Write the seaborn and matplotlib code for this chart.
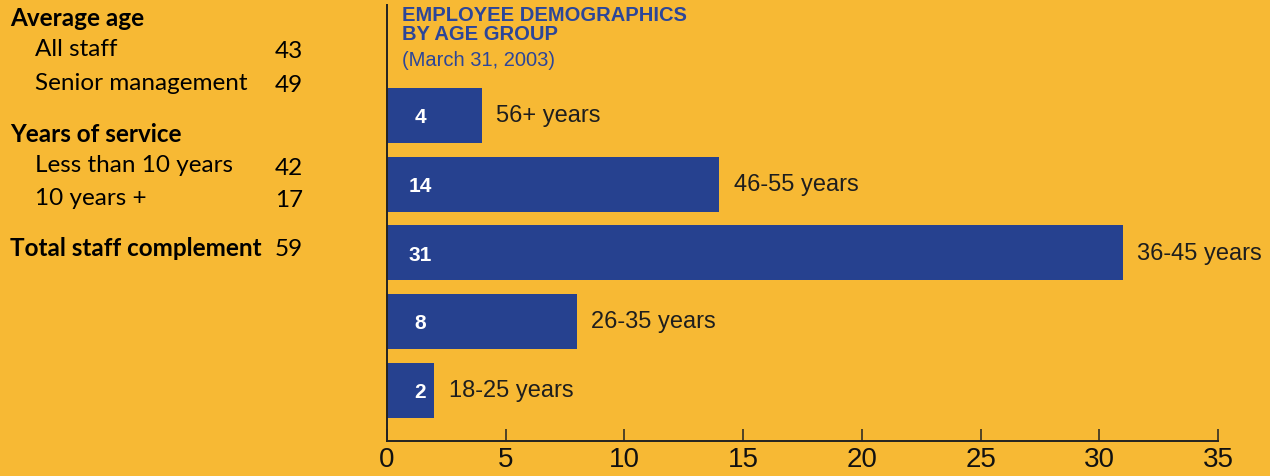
import matplotlib
matplotlib.use("Agg")
import matplotlib.pyplot as plt
import seaborn as sns
import pandas as pd

# Employee demographics by age group (March 31, 2003)
age_groups = ["56+ years", "46-55 years", "36-45 years", "26-35 years", "18-25 years"]
headcount = [4, 14, 31, 8, 2]
x_ticks = [0, 5, 10, 15, 20, 25, 30, 35]

# Side panel figures
panel_headers = ["Average age", "Years of service"]
age_items = ["All staff", "Senior management"]
age_values = [43, 49]
service_items = ["Less than 10 years", "10 years +"]
service_values = [42, 17]
total_label = "Total staff complement"
total_value = 59

BG = "#F7B934"
BAR = "#26418F"
TITLE = "#2C4699"
INK = "#1E1E1E"

sns.set_theme(style="white")
plt.rcParams["font.family"] = ["Liberation Sans", "DejaVu Sans"]

W, H = 1270, 476
fig = plt.figure(figsize=(W / 100, H / 100), dpi=100, facecolor=BG)
ax = fig.add_axes([387 / W, 1 - 441 / H, (1218 - 387) / W, (441 - 5) / H])
ax.set_facecolor(BG)

df = pd.DataFrame({"group": age_groups, "count": headcount})
sns.barplot(data=df, x="count", y="group", order=age_groups, orient="h",
            color=BAR, saturation=1, width=0.8, ax=ax, edgecolor="none")

ax.set_xlim(0, 35)
ax.set_ylim(4.735, -1.607)
ax.set_xticks(x_ticks)
ax.set_xticklabels([str(t) for t in x_ticks], fontsize=20, color="#111111")
ax.tick_params(axis="x", direction="in", length=9, width=1.1, color="#222222", pad=4,
               bottom=True)
ax.tick_params(axis="y", left=False, labelleft=False)
ax.set_xlabel("")
ax.set_ylabel("")
for side in ["top", "right"]:
    ax.spines[side].set_visible(False)
for side in ["left", "bottom"]:
    ax.spines[side].set_visible(True)
    ax.spines[side].set_color("#222222")
    ax.spines[side].set_linewidth(1.4)

# Value inside each bar and group name beyond its end
for i, (name, val) in enumerate(zip(age_groups, headcount)):
    ax.text(1.4, i + 0.03, str(val), ha="center", va="center", color="white",
            fontsize=15, fontweight="bold")
    ax.text(val + 0.6, i + 0.01, name, ha="left", va="center", color=INK, fontsize=17)

# Chart heading
ax.text(0.018, 0.998, "EMPLOYEE DEMOGRAPHICS\nBY AGE GROUP",
        transform=ax.transAxes, ha="left", va="top", color=TITLE, fontsize=14.5,
        fontweight="bold", linespacing=1.02)
ax.text(0.018, 0.895, "(March 31, 2003)", transform=ax.transAxes, ha="left", va="top",
        color=TITLE, fontsize=14.5)

# Side panel
def ftxt(x, y, s, **kw):
    fig.text(x / W, 1 - y / H, s, va="center", **kw)

panel_font = ["Lato", "DejaVu Sans"]
hdr = dict(fontsize=17.5, fontweight="bold", color="black", fontfamily=panel_font)
item = dict(fontsize=17.5, color="black", fontfamily=panel_font)

ftxt(10, 19, panel_headers[0], **hdr)
for (lab, val), y in zip(zip(age_items, age_values), [50, 83]):
    ftxt(35, y, lab, **item)
    ftxt(275, y + 2, str(val), **item)
ftxt(10, 134, panel_headers[1], **hdr)
for (lab, val), y in zip(zip(service_items, service_values), [166, 198]):
    ftxt(35, y, lab, **item)
    ftxt(275, y + 2, str(val), **item)
ftxt(10, 248, total_label, **hdr)
ftxt(275, 250, str(total_value), **item)

fig.savefig("out.png", dpi=100, facecolor=BG)
